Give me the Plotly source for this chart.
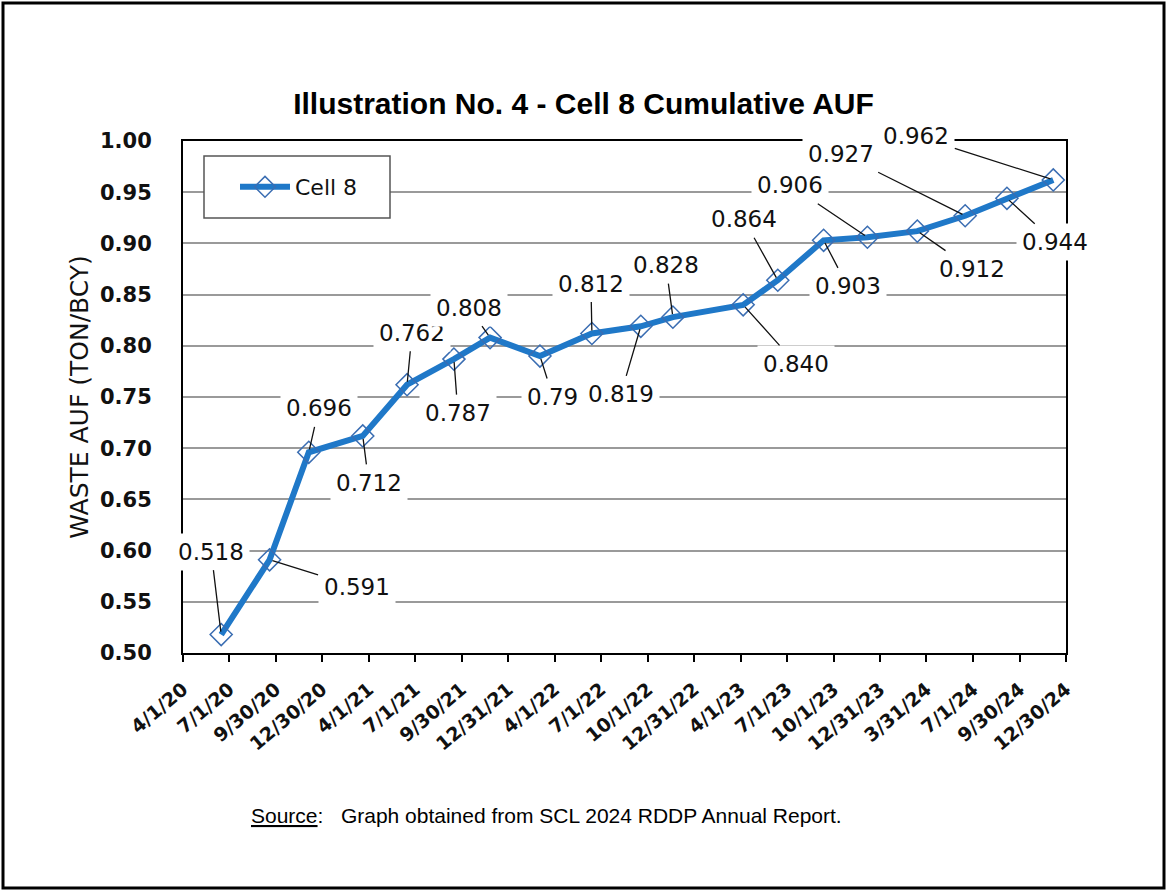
import plotly.graph_objects as go

# Survey dates and cumulative waste AUF for Cell 8
survey_dates = [
    "2020-06-15", "2020-09-18", "2020-12-04", "2021-03-20", "2021-06-15",
    "2021-09-15", "2021-11-25", "2022-03-03", "2022-06-13", "2022-09-17",
    "2022-11-19", "2023-04-06", "2023-06-13", "2023-09-11", "2023-12-06",
    "2024-03-13", "2024-06-15", "2024-09-05", "2024-12-05",
]
auf_text = [
    "0.518", "0.591", "0.696", "0.712", "0.762", "0.787", "0.808", "0.79",
    "0.812", "0.819", "0.828", "0.840", "0.864", "0.903", "0.906", "0.912",
    "0.927", "0.944", "0.962",
]
auf_values = [float(s) for s in auf_text]

# Quarterly axis ticks
tick_dates = [
    "2020-04-01", "2020-07-01", "2020-09-30", "2020-12-30", "2021-04-01",
    "2021-07-01", "2021-09-30", "2021-12-31", "2022-04-01", "2022-07-01",
    "2022-10-01", "2022-12-31", "2023-04-01", "2023-07-01", "2023-10-01",
    "2023-12-31", "2024-03-31", "2024-07-01", "2024-09-30", "2024-12-30",
]
tick_labels = [
    "4/1/20", "7/1/20", "9/30/20", "12/30/20", "4/1/21", "7/1/21", "9/30/21",
    "12/31/21", "4/1/22", "7/1/22", "10/1/22", "12/31/22", "4/1/23", "7/1/23",
    "10/1/23", "12/31/23", "3/31/24", "7/1/24", "9/30/24", "12/30/24",
]

# Pixel offsets of each data label from its point
label_offsets = [
    (-10, -83), (87, 27), (10, -44), (6, 47), (5, -52), (4, 54), (-21, -30),
    (13, 41), (-1, -50), (-20, 68), (-7, -52), (53, 59), (-34, -61), (24, 46),
    (-77, -52), (55, 38), (-124, -62), (48, 44), (-137, -44),
]

W, H = 1167, 892
L, R, T, B = 183, 101, 141, 239
PW, PH = W - L - R, H - T - B


def px(x):
    return (x - L) / PW


def py(y):
    return (H - B - y) / PH


BLUE = "#1f78c8"
FONT = "DejaVu Sans"

fig = go.Figure()
fig.add_trace(go.Scatter(
    x=survey_dates, y=auf_values, name="Cell 8", mode="lines+markers",
    line=dict(color=BLUE, width=6),
    marker=dict(symbol="diamond-open", size=17, color="#3a6db2",
                line=dict(width=1.5, color="#3a6db2")),
    hoverinfo="x+y",
))

annotations = []
for d, v, t, (dx, dy) in zip(survey_dates, auf_values, auf_text, label_offsets):
    annotations.append(dict(
        x=d, y=v, xref="x", yref="y", text=t, showarrow=True,
        arrowhead=0, arrowwidth=1.3, arrowcolor="#111111", standoff=3,
        ax=dx, ay=dy, bgcolor="white", borderpad=5,
        font=dict(family=FONT, size=23, color="#111111"),
    ))

annotations.append(dict(
    x=px(546), y=py(829), xref="paper", yref="paper", showarrow=False,
    text="<u>Source</u>:\u00a0\u00a0\u00a0Graph obtained from SCL 2024 RDDP Annual Report.",
    font=dict(family="Liberation Sans, Arial", size=21, color="black"),
))

shapes = [
    # outer page frame
    dict(type="rect", xref="paper", yref="paper",
         x0=px(3), x1=px(1164), y0=py(888), y1=py(3),
         line=dict(color="black", width=3), layer="above"),
    # legend box
    dict(type="rect", xref="paper", yref="paper",
         x0=px(204), x1=px(390), y0=py(218), y1=py(156),
         fillcolor="white", line=dict(color="#555555", width=1.5), layer="above"),
]

fig.update_layout(
    width=W, height=H, margin=dict(l=L, r=R, t=T, b=B),
    paper_bgcolor="white", plot_bgcolor="white",
    title=dict(
        text="<b>Illustration No. 4 - Cell 8 Cumulative AUF</b>",
        x=0.5, xanchor="center", xref="container",
        y=1 - 103 / H, yanchor="middle", yref="container",
        font=dict(family="Liberation Sans Narrow, Arial Narrow, Liberation Sans", size=30, color="black"),
    ),
    showlegend=True,
    legend=dict(
        x=px(235), y=py(187), xanchor="left", yanchor="middle",
        bgcolor="rgba(0,0,0,0)", borderwidth=0,
        font=dict(family=FONT, size=22, color="#111111"),
        itemwidth=50,
    ),
    annotations=annotations,
    shapes=shapes,
    xaxis=dict(
        type="date", range=[tick_dates[0], tick_dates[-1]],
        tickmode="array", tickvals=tick_dates, ticktext=tick_labels,
        tickangle=-40, ticks="outside", ticklen=7, tickwidth=2, tickcolor="black",
        showgrid=False, showline=True, linecolor="black", linewidth=2, mirror=True,
        tickfont=dict(family=FONT, size=19, color="#111111", weight="bold"),
        ticklabelstandoff=9,
    ),
    yaxis=dict(
        range=[0.5, 1.0], dtick=0.05, tick0=0.5, tickformat=".2f",
        showgrid=True, gridcolor="#9a9a9a", gridwidth=1.5,
        showline=True, linecolor="black", linewidth=2, mirror=True,
        ticks="", ticklabelstandoff=25,
        tickfont=dict(family=FONT, size=21, color="#111111", weight="bold"),
        title=dict(text="WASTE AUF (TON/BCY)", standoff=4,
                   font=dict(family=FONT, size=25, color="#111111")),
    ),
)

fig.write_html("out.html")
